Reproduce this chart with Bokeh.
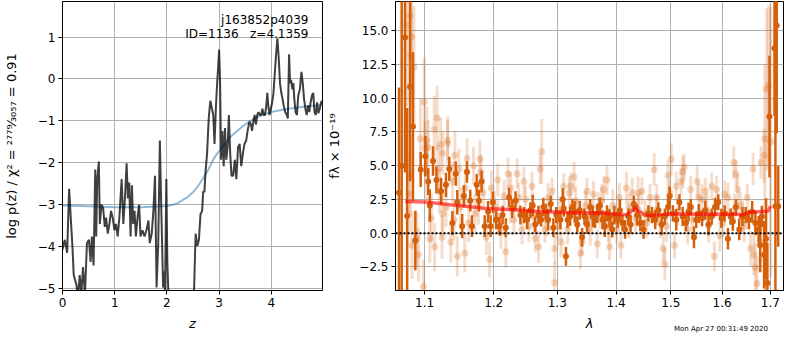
import numpy as np
from bokeh.plotting import figure
from bokeh.models import Range1d, FixedTicker, CustomJSTickFormatter, Label, ColumnDataSource, Div
from bokeh.layouts import row, column
from bokeh.embed import file_html
from bokeh.resources import INLINE

# ---------------- data: left panel (log p(z)) ----------------
z_grid = [
    0.000, 0.044, 0.089, 0.127, 0.158, 0.190, 0.215, 0.266, 0.297, 0.329,
    0.361, 0.392, 0.430, 0.468, 0.506, 0.538, 0.563, 0.595, 0.627, 0.646,
    0.665, 0.696, 0.715, 0.747, 0.778, 0.810, 0.835, 0.867, 0.899, 0.930,
    0.962, 0.994, 1.025, 1.057, 1.089, 1.133, 1.165, 1.196, 1.228, 1.253,
    1.278, 1.304, 1.329, 1.354, 1.380, 1.405, 1.443, 1.468, 1.494, 1.532,
    1.570, 1.608, 1.646, 1.671, 1.709, 1.741, 1.772,
    1.802, 1.834, 1.865, 1.896, 1.927, 1.946, 1.964, 1.989, 2.008, 2.027,
    2.052, 2.15, 2.30, 2.45,
    2.519, 2.550, 2.582, 2.613, 2.643, 2.675, 2.694, 2.719, 2.738, 2.769,
    2.801, 2.831, 2.863, 2.887, 2.912, 2.937, 2.962, 2.981, 3.000, 3.019,
    3.037, 3.062, 3.087, 3.112, 3.137, 3.162, 3.187, 3.212, 3.237, 3.268,
    3.300,
    3.330, 3.362, 3.393, 3.424, 3.455, 3.486, 3.518, 3.549, 3.580, 3.611,
    3.630, 3.655, 3.680, 3.705, 3.730, 3.755, 3.779, 3.804, 3.829, 3.854,
    3.879, 3.904, 3.923, 3.941, 3.966, 3.991, 4.016, 4.041, 4.066, 4.091,
    4.116, 4.141, 4.166, 4.191, 4.216, 4.235, 4.266, 4.297, 4.316, 4.340,
    4.359, 4.378, 4.403, 4.422, 4.440, 4.465, 4.490, 4.515, 4.546, 4.577,
    4.602, 4.627, 4.652, 4.677, 4.702, 4.727, 4.752, 4.777, 4.802, 4.827,
    4.852, 4.877, 4.902, 4.927, 4.952, 4.970]
log_pz = [
    -4.07, -3.84, -4.15, -2.62, -3.31, -3.99, -4.68, -4.91, -5.20, -4.68,
    -5.14, -4.49, -5.14, -3.92, -3.84, -4.37, -3.76, -4.45, -2.16, -3.76,
    -2.39, -1.97, -3.46, -3.00, -3.08, -3.53, -3.31, -3.69, -3.46, -3.15,
    -3.31, -3.61, -3.46, -3.76, -3.31, -2.39, -3.46, -2.85, -2.01, -2.85,
    -2.47, -3.76, -2.54, -3.46, -3.15, -3.76, -3.23, -3.00, -3.76, -3.61,
    -3.76, -3.61, -3.38, -3.92, -3.69, -3.15, -2.31,
    -4.98, -3.92, -1.47, -3.31, -4.98, -4.60, -5.06, -2.39, -4.37, -5.06,
    -5.44, -6.50, -7.50, -6.20,
    -5.06, -3.69, -3.99, -3.84, -3.23, -3.15, -2.69, -2.69, -2.24, -1.78,
    -0.94, -0.52, -0.71, -0.86, -1.55, -0.71, -0.10, 0.28, 0.70, -0.10,
    -1.93, -1.24, -2.08, -1.17, -1.93, -1.63, -0.86, -1.78, -2.31, -2.31,
    -1.93,
    -2.39, -1.63, -1.55, -2.08, -1.78, -1.55, -1.47, -1.21, -1.02, -1.09,
    -1.24, -1.02, -0.86, -1.09, -0.86, -0.79, -0.86, -0.86, -0.71, -0.86,
    -0.86, -0.63, -0.33, -0.63, -0.86, -0.71, -0.56, -0.33, 0.13, 0.59,
    0.97, 0.51, -0.10, -0.33, -0.48, -0.63, -0.79, -0.86, -0.94, 0.59,
    -0.10, -0.02, -0.25, -0.10, -0.48, -0.79, -0.86, -0.40, -0.25, 0.17,
    -0.10, -0.48, -0.71, -0.86, -0.63, -0.79, -0.56, -0.40, -0.33, -0.79,
    -0.86, -0.56, -0.82, -0.71, -0.56, -0.52]

z_prior = [0.0, 0.5, 1.0, 1.5, 2.0, 2.1, 2.2, 2.33, 2.4, 2.52, 2.6, 2.71, 2.8,
           2.89, 2.95, 3.02, 3.1, 3.21, 3.3, 3.46, 3.6, 3.70, 3.85, 4.02, 4.15,
           4.33, 4.5, 4.70, 4.98]
log_prior = [-3.02, -3.04, -3.06, -3.06, -3.03, -3.01, -2.97, -2.87, -2.82, -2.68,
             -2.55, -2.34, -2.15, -1.92, -1.80, -1.69, -1.57, -1.39, -1.29, -1.12,
             -1.00, -0.93, -0.85, -0.78, -0.75, -0.71, -0.68, -0.65, -0.62]

obj_name = "j163852p4039"
obj_info = "ID=1136\u00a0\u00a0\u00a0z=4.1359"
timestamp = "Mon Apr 27 00:31:49 2020"

# ---------------- data: right panel (spectrum) ----------------
lam_dark = [
    1.0651, 1.0687, 1.0732, 1.0761, 1.0800, 1.0840, 1.0872, 1.0946, 1.1009, 1.1050,
    1.1072, 1.1117, 1.1165, 1.1231, 1.1300, 1.1347, 1.1392, 1.1440, 1.1462, 1.1533,
    1.1557, 1.1603, 1.1651, 1.1675, 1.1746, 1.1779, 1.1818, 1.1865, 1.1915, 1.1953,
    1.1988, 1.2036, 1.2088, 1.2135, 1.2184, 1.2234, 1.2284, 1.2334, 1.2410, 1.2465,
    1.2516, 1.2567, 1.2604, 1.2644, 1.2696, 1.2737, 1.2774, 1.2810, 1.2852, 1.2893,
    1.2936, 1.2983, 1.3052, 1.3090, 1.3106, 1.3143, 1.3170, 1.3212, 1.3250, 1.3288,
    1.3332, 1.3374, 1.3413, 1.3452, 1.3496, 1.3550, 1.3595, 1.3633, 1.3672, 1.3717,
    1.3762, 1.3801, 1.3840, 1.3885, 1.3931, 1.3970, 1.4027, 1.4068, 1.4113, 1.4159,
    1.4217, 1.4258, 1.4316, 1.4374, 1.4434, 1.4492, 1.4581, 1.4646, 1.4706, 1.4765,
    1.4827, 1.4886, 1.4946, 1.4977, 1.5038, 1.5101, 1.5162, 1.5224, 1.5287, 1.5336,
    1.5380, 1.5442, 1.5486, 1.5537, 1.5600, 1.5664, 1.5728, 1.5791, 1.5857, 1.5921,
    1.5985, 1.6051, 1.6117, 1.6170, 1.6216, 1.6281, 1.6348, 1.6414, 1.6481, 1.6549,
    1.6616, 1.6683, 1.6752, 1.6785, 1.6820, 1.6868, 1.6909, 1.6937, 1.6982, 1.7090,
    1.7110, 1.7138, 1.7170]
flux_dark = [
    3.00, 5.00, 14.50, 1.27, 10.85, 7.90, -0.54, 4.72, 5.70, 3.82,
    2.05, 5.35, 3.94, 3.11, 3.58, 4.76, 0.75, 4.41, 2.29, 0.52,
    2.76, 4.53, 2.41, 0.52, 3.58, 2.41, 3.82, 0.52, 1.58, 0.52,
    2.29, 0.99, 0.52, 1.34, 0.40, 2.64, 1.82, 2.41, 1.34, 1.34,
    0.99, 1.70, 2.05, 0.64, 1.34, 0.99, 1.93, 1.58, 0.99, 2.17,
    0.40, 1.34, 0.99, 2.52, 1.82, -1.72, 0.99, 1.23, 1.93, 1.58,
    0.64, 1.70, -0.31, 1.23, 0.64, 1.93, 1.23, 0.99, 1.46, 2.05,
    0.99, 0.52, 1.46, 1.11, 0.28, 1.34, 0.99, 1.70, 0.75, 0.28,
    1.23, 0.64, 2.17, 1.34, 0.75, 0.28, 1.46, 1.34, 0.99, 1.70,
    0.64, 1.23, 1.93, 2.76, 1.46, 0.99, 2.29, 1.23, 0.75, 1.58,
    1.93, -0.31, 0.99, 1.46, 1.11, 1.70, 0.64, 1.23, 1.93, 2.29,
    1.11, 1.46, -0.42, 1.23, 0.87, 1.93, 0.28, 1.23, 1.34, 0.99,
    1.58, 0.75, 0.28, -0.90, 1.23, -1.60, -0.42, -3.70, 8.65, 13.70,
    2.00, 15.40, 2.00]
err_dark = [
    7.8, 13.0, 10.0, 8.0, 7.0, 5.5, 2.2, 1.3, 1.5, 1.0,
    1.2, 1.1, 1.0, 1.0, 0.9, 0.9, 0.9, 0.9, 0.9, 0.9,
    0.8, 0.8, 0.8, 0.8, 0.8, 0.8, 0.8, 0.8, 0.8, 0.8,
    0.8, 0.7, 0.7, 0.7, 0.7, 0.7, 0.7, 0.7, 0.7, 0.6,
    0.7, 0.6, 0.8, 0.6, 0.7, 0.5, 0.7, 0.6, 0.8, 0.6,
    0.7, 0.6, 0.7, 0.8, 0.6, 0.7, 0.6, 0.7, 0.6, 0.8,
    0.6, 0.7, 0.7, 0.6, 0.7, 0.6, 0.8, 0.6, 0.7, 0.6,
    0.7, 0.8, 0.6, 0.7, 0.6, 0.7, 0.6, 0.8, 0.6, 0.7,
    0.6, 0.7, 0.6, 0.8, 0.6, 0.7, 0.6, 0.6, 0.7, 0.6,
    0.8, 0.6, 0.7, 0.7, 0.6, 0.8, 0.6, 0.7, 0.6, 0.7,
    0.6, 0.8, 0.6, 0.7, 0.6, 0.7, 0.8, 0.6, 0.7, 0.6,
    0.7, 0.6, 0.8, 0.6, 0.7, 0.6, 0.8, 0.7, 0.6, 0.7,
    0.8, 0.9, 1.0, 2.0, 0.8, 2.5, 3.0, 3.0, 4.5, 5.0,
    20.0, 8.0, 3.0]

lam_light = [
    1.0754, 1.0785, 1.0800, 1.0806, 1.0809, 1.0822, 1.0827, 1.0853, 1.0893, 1.0916,
    1.0942, 1.0983, 1.0996, 1.1005, 1.1027, 1.1032, 1.1050, 1.1072, 1.1094, 1.1134,
    1.1140, 1.1175, 1.1185, 1.1208, 1.1225, 1.1244, 1.1253, 1.1300, 1.1323, 1.1325,
    1.1369, 1.1392, 1.1416, 1.1428, 1.1462, 1.1486, 1.1509, 1.1571, 1.1579, 1.1605,
    1.1627, 1.1699, 1.1721, 1.1793, 1.1808, 1.1842, 1.1890, 1.1939, 1.1963, 1.2012,
    1.2061, 1.2110, 1.2159, 1.2184, 1.2219, 1.2259, 1.2310, 1.2360, 1.2384, 1.2436,
    1.2465, 1.2490, 1.2542, 1.2593, 1.2644, 1.2696, 1.2722, 1.2747, 1.2800, 1.2852,
    1.2915, 1.2956, 1.2960, 1.3009, 1.3063, 1.3106, 1.3196, 1.3223, 1.3277, 1.3304,
    1.3386, 1.3413, 1.3468, 1.3496, 1.3550, 1.3605, 1.3672, 1.3717, 1.3745, 1.3784,
    1.3840, 1.3885, 1.3942, 1.4010, 1.4056, 1.4085, 1.4182, 1.4229, 1.4287, 1.4346,
    1.4392, 1.4462, 1.4551, 1.4611, 1.4688, 1.4736, 1.4796, 1.4856, 1.4886, 1.4946,
    1.4977, 1.5007, 1.5069, 1.5101, 1.5193, 1.5224, 1.5255, 1.5317, 1.5380, 1.5505,
    1.5537, 1.5600, 1.5664, 1.5728, 1.5791, 1.5844, 1.5889, 1.5954, 1.6051, 1.6117,
    1.6236, 1.6281, 1.6315, 1.6368, 1.6414, 1.6515, 1.6583, 1.6637, 1.6651, 1.6683,
    1.6718, 1.6785, 1.6800, 1.6868, 1.6882, 1.6909, 1.6923, 1.6965, 1.7007,
    1.2619, 1.2826, 1.3036, 1.3170, 1.3331, 1.3522, 1.3689, 1.3857, 1.4056, 1.4229,
    1.4404, 1.4522, 1.4736, 1.4916, 1.5131, 1.5411, 1.5696, 1.6018, 1.6249, 1.6448,
    1.1253, 1.1770, 1.2061, 1.2259]
flux_light = [
    15.43, 2.88, 16.09, 4.29, 13.14, 14.56, -0.90, 12.31, -0.42, -1.60,
    7.00, -3.96, 9.72, 6.30, 4.53, 6.89, 6.37, -0.42, 1.11, 7.71,
    -1.01, 8.54, 4.76, 3.11, 6.58, -0.31, 5.94, 1.93, 6.89, 6.65,
    -0.66, 3.82, 0.99, 5.78, -1.72, 4.76, 1.93, -1.49, 3.35, 5.54,
    0.75, 5.00, 1.46, 5.47, 4.53, 3.00, -0.31, -1.96, 3.35, 1.93,
    3.94, 0.05, 2.76, -1.37, 4.41, 3.35, 0.99, 4.41, 2.64, 0.28,
    3.82, 2.52, 0.52, 3.47, -0.42, -1.01, 4.76, 6.06, 0.28, 2.64,
    3.11, -3.68, -1.13, 0.52, -0.66, 3.47, 3.00, 3.47, 4.17, 2.41,
    -1.49, -0.66, 2.05, 3.11, 0.28, 2.88, -0.78, 1.34, 2.41, 3.23,
    3.94, -1.01, 2.05, 0.28, 2.64, -0.90, 3.35, 1.93, 3.00, 1.11,
    3.00, 3.11, 0.75, 2.64, 4.72, 2.64, 0.75, -1.13, -2.31, 4.29,
    3.00, 5.47, -0.90, 3.47, 3.82, 4.53, 4.88, 0.28, 3.23, 3.82,
    2.64, 2.52, 3.11, 0.52, 3.47, -1.72, 3.23, -0.19, 2.88, 2.64,
    5.24, 4.41, 3.23, 2.05, 1.23, 2.64, -1.13, 4.76, -1.60, -2.55,
    -3.73, -0.66, 5.24, 5.76, 6.97, -3.96, 10.66, 10.95, 6.75,
    1.23, 0.99, 1.70, 0.28, 1.23, 0.99, 1.93, 0.52, 1.46, 0.75,
    1.70, 1.46, 1.70, 0.52, 1.58, 0.99, 1.70, 0.75, 1.82, 0.52,
    1.46, 1.93, 1.23, 1.93]
err_light = [
    6.0, 3.0, 6.0, 3.0, 5.0, 5.0, 2.5, 4.5, 2.0, 2.0,
    3.0, 2.0, 3.3, 2.0, 2.0, 2.5, 2.0, 1.8, 1.8, 2.5,
    1.8, 2.4, 1.8, 1.6, 2.0, 1.6, 1.6, 1.5, 1.5, 2.0,
    1.5, 1.5, 1.5, 1.8, 1.5, 1.5, 1.4, 1.4, 1.4, 1.5,
    1.4, 1.4, 1.4, 1.4, 1.3, 1.3, 1.3, 1.3, 1.3, 1.2,
    1.2, 1.2, 1.2, 1.2, 1.2, 1.2, 1.1, 1.1, 1.1, 1.1,
    1.1, 1.0, 1.2, 1.1, 1.0, 1.2, 1.1, 2.4, 1.0, 1.1,
    1.0, 1.5, 1.2, 1.0, 1.1, 1.0, 1.2, 1.0, 1.1, 1.0,
    1.2, 1.0, 1.1, 1.0, 1.2, 1.0, 1.1, 1.0, 1.2, 1.0,
    1.1, 1.0, 1.2, 1.0, 1.1, 1.0, 1.2, 1.0, 1.1, 1.0,
    1.2, 1.0, 1.1, 1.0, 1.2, 1.0, 1.1, 1.0, 1.2, 1.1,
    1.0, 1.2, 1.0, 1.1, 1.0, 1.2, 1.0, 1.1, 1.0, 1.2,
    1.0, 1.1, 1.0, 1.2, 1.0, 1.1, 1.0, 1.2, 1.0, 1.1,
    1.2, 1.0, 1.1, 1.0, 1.2, 1.0, 1.3, 1.2, 1.5, 1.8,
    2.0, 1.5, 1.2, 2.0, 5.5, 2.5, 6.0, 6.0, 10.0,
    1.1, 1.2, 1.0, 1.1, 1.2, 1.0, 1.1, 1.2, 1.0, 1.1,
    1.2, 1.0, 1.1, 1.2, 1.0, 1.1, 1.2, 1.0, 1.1, 1.2,
    1.4, 1.3, 1.2, 1.2]

lam_model = [1.0735, 1.1009, 1.1466, 1.1944, 1.2239, 1.2696, 1.3063, 1.3386, 1.3662,
             1.3942, 1.4172, 1.4258, 1.4333, 1.4404, 1.4522, 1.4639, 1.4941, 1.5249,
             1.5561, 1.5882, 1.6275, 1.6409, 1.6541, 1.6814, 1.6950, 1.7006]
flux_model = [2.34, 2.31, 2.05, 1.80, 1.75, 1.60, 1.55, 1.50, 1.52,
              1.42, 1.36, 1.55, 1.93, 1.62, 1.33, 1.30, 1.42, 1.42,
              1.40, 1.42, 1.40, 1.34, 1.55, 1.60, 1.62, 2.00]

lam_ticks = [1.1, 1.2, 1.3, 1.4, 1.5, 1.6, 1.7]
flux_ticks = [-2.5, 0.0, 2.5, 5.0, 7.5, 10.0, 12.5, 15.0]
z_ticks = [0, 1, 2, 3, 4]
pz_ticks = [-5, -4, -3, -2, -1, 0, 1]

# ---------------- styling helpers ----------------
FONT = "DejaVu Sans"
GRID = "#b0b0b0"
DARK = "#d5600c"


def style(p):
    p.outline_line_color = "black"
    p.outline_line_width = 1
    p.background_fill_color = "white"
    p.border_fill_color = "white"
    for ax in p.axis:
        ax.major_tick_out = 4
        ax.major_tick_in = 0
        ax.minor_tick_out = 0
        ax.minor_tick_in = 0
        ax.axis_line_color = "black"
        ax.major_tick_line_color = "black"
        ax.major_label_text_font = FONT
        ax.major_label_text_font_size = "12px"
        ax.major_label_text_color = "black"
        ax.major_label_standoff = 3
        ax.axis_label_text_font = FONT
        ax.axis_label_text_font_size = "13px"
        ax.axis_label_text_font_style = "normal"
        ax.axis_label_text_color = "black"
    p.grid.grid_line_color = GRID
    p.grid.grid_line_width = 1


minus_fmt0 = CustomJSTickFormatter(code="return (tick < 0 ? '\u2212' : '') + Math.abs(tick).toFixed(0);")
minus_fmt1 = CustomJSTickFormatter(code="return (tick < -1e-9 ? '\u2212' : '') + Math.abs(tick).toFixed(1);")

# ---------------- left panel ----------------
p1 = figure(width=324, height=334, output_backend="svg", toolbar_location=None,
            x_range=Range1d(0, 4.98), y_range=Range1d(-5.05, 1.85),
            min_border_left=61, min_border_right=2, min_border_top=1, min_border_bottom=44)
style(p1)
p1.xaxis.ticker = FixedTicker(ticks=z_ticks)
p1.yaxis.ticker = FixedTicker(ticks=pz_ticks)
p1.xaxis.formatter = minus_fmt0
p1.yaxis.formatter = minus_fmt0
p1.xaxis.axis_label = "z"
p1.xaxis.axis_label_text_font_style = "italic"
p1.yaxis.axis_label = "log p(z) / \u03c7\u00b2 = \u00b2\u2077\u2077\u2079\u2044\u2083\u2080\u2085\u2087 = 0.91"
p1.xaxis.axis_label_standoff = 6
p1.yaxis.axis_label_standoff = 16

p1.line(z_prior, log_prior, line_color="#1f77b4", line_alpha=0.5, line_width=2)
p1.line(z_grid, log_pz, line_color="black", line_alpha=0.75, line_width=2)

p1.add_layout(Label(x=4.71, y=1.42, text=obj_name, text_align="right", text_baseline="middle",
                    text_font=FONT, text_font_size="12px", text_color="black"))
p1.add_layout(Label(x=4.71, y=1.08, text=obj_info, text_align="right", text_baseline="middle",
                    text_font=FONT, text_font_size="12px", text_color="black"))

# ---------------- right panel ----------------
p2 = figure(width=460, height=334, output_backend="svg", toolbar_location=None,
            x_axis_type="log",
            x_range=Range1d(1.0604, 1.7285), y_range=Range1d(-4.25, 17.17),
            min_border_left=67, min_border_right=1, min_border_top=1, min_border_bottom=44)
style(p2)
p2.xaxis.ticker = FixedTicker(ticks=lam_ticks)
p2.yaxis.ticker = FixedTicker(ticks=flux_ticks)
p2.xaxis.formatter = CustomJSTickFormatter(code="return tick.toFixed(1);")
p2.yaxis.formatter = minus_fmt1
p2.xaxis.axis_label = "\u03bb"
p2.xaxis.axis_label_text_font_style = "italic"
p2.yaxis.axis_label = "f\u03bb \u00d7 10\u207b\u00b9\u2079"
p2.xaxis.axis_label_standoff = 6
p2.yaxis.axis_label_standoff = 14

ld = np.array(lam_dark); fd = np.array(flux_dark); ed = np.array(err_dark)
ll = np.array(lam_light); fl = np.array(flux_light); el = np.array(err_light)
src_l = ColumnDataSource(dict(x=ll, y=fl, lo=fl - el, hi=fl + el))
src_d = ColumnDataSource(dict(x=ld, y=fd, lo=fd - ed, hi=fd + ed))

p2.segment(x0="x", y0="lo", x1="x", y1="hi", source=src_l, line_color=DARK, line_alpha=0.22, line_width=3)
p2.scatter(x="x", y="y", source=src_l, size=7, fill_color=DARK, fill_alpha=0.25, line_color=None)
p2.segment(x0="x", y0="lo", x1="x", y1="hi", source=src_d, line_color=DARK, line_alpha=1.0, line_width=2.5)
p2.scatter(x="x", y="y", source=src_d, size=6, fill_color=DARK, fill_alpha=1.0, line_color=None)
p2.line(lam_model, flux_model, line_color="red", line_alpha=0.6, line_width=3.5)
p2.line([1.0604, 1.7285], [0, 0], line_color="black", line_width=2, line_dash="2 2")

stamp = Div(text='<div style="text-align:right;font-size:7px;line-height:10px;'
                 'font-family:\'DejaVu Sans\';color:black;white-space:nowrap;">'
                 + timestamp + '</div>',
            width=100, height=10, margin=(-15, 0, 0, 674))

layout = column(row(p1, p2, spacing=0), stamp, spacing=0)
open("out.html", "w").write(file_html(layout, INLINE))
